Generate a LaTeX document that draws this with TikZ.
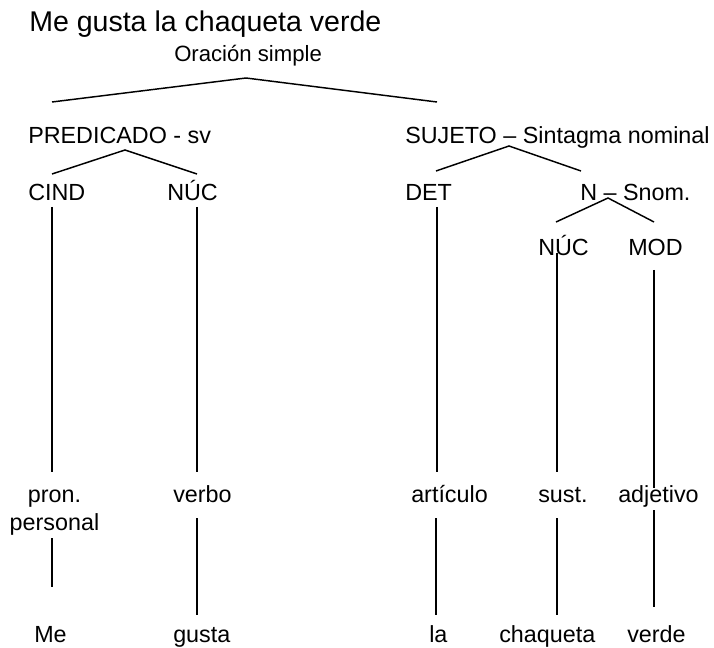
\documentclass[tikz,border=0pt]{standalone}
\usepackage{fontspec}
\setmainfont{Liberation Sans}
\begin{document}
\begin{tikzpicture}[x=0.75pt,y=-0.75pt,
  lab/.style={inner sep=0pt, anchor=base west, font=\fontsize{17.5pt}{20pt}\selectfont},
  labc/.style={inner sep=0pt, anchor=base, font=\fontsize{17.5pt}{20pt}\selectfont},
  ttl/.style={inner sep=0pt, anchor=base west, font=\fontsize{21.4pt}{25pt}\selectfont},
  sub/.style={inner sep=0pt, anchor=base west, font=\fontsize{16.6pt}{20pt}\selectfont},
  edge/.style={line width=1.1pt}]
\useasboundingbox (0,0) rectangle (714,648);

% texts
\node[ttl] (title) at (29,32) {Me gusta la chaqueta verde};
\node[sub] (orac) at (174,62) {Oración simple};
\node[lab] (pred) at (28,144) {PREDICADO - sv};
\node[lab] (suj) at (405,144) {SUJETO – Sintagma nominal};
\node[lab] (cind) at (28,201) {CIND};
\node[lab] (nuc1) at (167,201) {NÚC};
\node[lab] (det) at (405,201) {DET};
\node[lab] (nsn) at (580,201) {N – Snom.};
\node[lab] (nuc2) at (538,256) {NÚC};
\node[lab] (mod) at (628,256) {MOD};
\node[labc] (pron) at (54.5,503) {pron.};
\node[labc] (pers) at (54.5,530) {personal};
\node[lab] (verbo) at (173,503) {verbo};
\node[lab] (art) at (411,503) {artículo};
\node[lab] (sust) at (538,503) {sust.};
\node[lab] (adj) at (618,503) {adjetivo};
\node[lab] (me) at (34,642) {Me};
\node[lab] (gusta) at (173,642) {gusta};
\node[lab] (la) at (429,642) {la};
\node[lab] (chaq) at (499,642) {chaqueta};
\node[lab] (verde) at (627,642) {verde};

% attachment points
\coordinate (orac-b) at (246,78);
\coordinate (pred-t) at (52,102);
\coordinate (suj-t) at (437,102);
\coordinate (pred-b) at (125,150);
\coordinate (cind-t) at (52,174);
\coordinate (nuc1-t) at (197,174);
\coordinate (suj-b) at (509,146);
\coordinate (det-t) at (436,171);
\coordinate (nsn-t) at (581,171);
\coordinate (nsn-b) at (608,198);
\coordinate (nuc2-t) at (556,222);
\coordinate (mod-t) at (654,222);
\coordinate (cind-b) at (52,207);
\coordinate (pron-t) at (52,472);
\coordinate (nuc1-b) at (197,207);
\coordinate (verbo-t) at (197,472);
\coordinate (det-b) at (437,207);
\coordinate (art-t) at (437,472);
\coordinate (nuc2-b) at (557,253);
\coordinate (sust-t) at (557,472);
\coordinate (mod-b) at (654,270);
\coordinate (adj-t) at (654,488);
\coordinate (pers-b) at (52,538);
\coordinate (me-t) at (52,587);
\coordinate (verbo-b) at (197,518);
\coordinate (gusta-t) at (197,615);
\coordinate (art-b) at (436,518);
\coordinate (la-t) at (436,615);
\coordinate (sust-b) at (557,518);
\coordinate (chaq-t) at (557,615);
\coordinate (adj-b) at (654,510);
\coordinate (verde-t) at (654,607);

% connectors
\draw[edge] (pred-t) -- (orac-b) -- (suj-t);
\draw[edge] (cind-t) -- (pred-b) -- (nuc1-t);
\draw[edge] (det-t) -- (suj-b) -- (nsn-t);
\draw[edge] (nuc2-t) -- (nsn-b) -- (mod-t);
\draw[edge] (cind-b) -- (pron-t);
\draw[edge] (nuc1-b) -- (verbo-t);
\draw[edge] (det-b) -- (art-t);
\draw[edge] (nuc2-b) -- (sust-t);
\draw[edge] (mod-b) -- (adj-t);
\draw[edge] (pers-b) -- (me-t);
\draw[edge] (verbo-b) -- (gusta-t);
\draw[edge] (art-b) -- (la-t);
\draw[edge] (sust-b) -- (chaq-t);
\draw[edge] (adj-b) -- (verde-t);
\end{tikzpicture}
\end{document}
